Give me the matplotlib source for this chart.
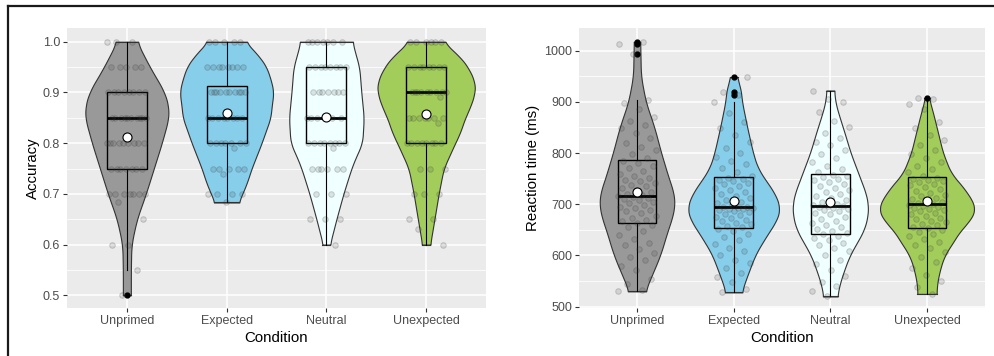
import numpy as np
import matplotlib
matplotlib.use("Agg")
import matplotlib.pyplot as plt
from matplotlib.lines import Line2D

plt.rcParams['font.family'] = ['Liberation Sans', 'DejaVu Sans']

# ---------------- data ----------------
conditions = ["Unprimed", "Expected", "Neutral", "Unexpected"]
fill_colors = ["#999999", "#87CEEB", "#F0FFFF", "#A2CD5A"]

# Accuracy (left panel) individual values
acc_unprimed = [1.0]*3 + [0.95]*5 + [0.9]*8 + [0.85]*10 + [0.8]*9 + [0.75]*7 + [0.7]*7 + [0.683, 0.65, 0.6, 0.6, 0.55, 0.5]
acc_expected = [1.0]*5 + [0.95]*8 + [0.9]*10 + [0.85]*8 + [0.8]*7 + [0.79] + [0.75]*5 + [0.74] + [0.7]*4 + [0.683]
acc_neutral = [1.0]*7 + [0.95]*8 + [0.9]*7 + [0.85]*6 + [0.8]*8 + [0.79] + [0.75]*6 + [0.7]*3 + [0.65]*3 + [0.6]
acc_unexpected = [1.0]*6 + [0.95]*8 + [0.9]*9 + [0.89] + [0.85]*7 + [0.84] + [0.8]*8 + [0.75]*3 + [0.7]*3 + [0.65]*2 + [0.63, 0.6]

# Accuracy box statistics
acc_q1 = [0.75, 0.80, 0.80, 0.80]
acc_med = [0.85, 0.85, 0.85, 0.90]
acc_q3 = [0.90, 0.912, 0.95, 0.95]
acc_wlo = [0.55, 0.683, 0.60, 0.60]
acc_whi = [1.0, 1.0, 1.0, 1.0]
acc_mean = [0.813, 0.860, 0.852, 0.857]
acc_out = [[0.5], [], [], []]

# Accuracy violin profiles: levels and half-widths (category units)
acc_v_levels = [
    [0.50, 0.55, 0.60, 0.65, 0.70, 0.75, 0.80, 0.85, 0.87, 0.90, 0.95, 1.00],
    [0.683, 0.72, 0.75, 0.80, 0.85, 0.87, 0.90, 0.92, 0.95, 0.97, 1.00],
    [0.60, 0.65, 0.70, 0.75, 0.77, 0.80, 0.85, 0.90, 0.95, 0.97, 1.00],
    [0.60, 0.65, 0.70, 0.75, 0.80, 0.82, 0.85, 0.87, 0.90, 0.92, 0.95, 0.97, 1.00],
]
acc_v_width = [
    [0.04, 0.04, 0.045, 0.10, 0.19, 0.27, 0.35, 0.42, 0.42, 0.38, 0.23, 0.10],
    [0.12, 0.20, 0.25, 0.35, 0.44, 0.45, 0.47, 0.45, 0.40, 0.33, 0.19],
    [0.035, 0.10, 0.17, 0.25, 0.29, 0.36, 0.375, 0.35, 0.33, 0.30, 0.26],
    [0.04, 0.083, 0.125, 0.175, 0.29, 0.34, 0.39, 0.44, 0.49, 0.49, 0.42, 0.34, 0.17],
]

# Reaction time (right panel) individual values
rt_unprimed = [530, 532, 545, 555, 572, 580, 592, 598, 605, 612, 620, 625, 632, 640, 648, 655, 660,
               664, 667, 670, 674, 678, 682, 686, 689, 692, 695, 698, 702, 705, 708, 710, 713, 715,
               717, 718,
               720, 724, 728, 732, 735, 738, 742, 745, 748, 752, 755, 760, 765, 770, 775, 780, 784,
               790, 798, 805, 812, 820, 830, 840, 848, 855, 862, 870, 885, 897, 904, 993, 1013, 1017]
rt_expected = [528, 535, 548, 558, 566, 575, 585, 592, 600, 608, 615, 622, 630, 636, 642, 648, 652,
               655, 658, 661, 664, 667, 670, 673, 676, 679, 681, 684, 686, 688, 690, 691, 692, 693,
               694, 695,
               698, 702, 705, 708, 712, 716, 720, 724, 728, 732, 736, 739, 742, 745, 748, 750, 752,
               756, 762, 770, 778, 785, 792, 800, 810, 822, 835, 848, 860, 878, 900, 914, 920, 948]
rt_neutral = [520, 530, 540, 548, 560, 572, 583, 592, 600, 608, 615, 620, 625, 630, 634, 638, 641,
              644, 648, 652, 656, 660, 664, 668, 672, 676, 680, 683, 686, 688, 690, 692, 694, 696,
              697, 698,
              700, 704, 708, 712, 716, 720, 724, 728, 732, 736, 740, 744, 747, 750, 753, 756, 758,
              762, 768, 775, 782, 790, 798, 806, 815, 822, 830, 840, 850, 862, 880, 900, 905, 922]
rt_unexpected = [525, 538, 550, 562, 575, 588, 598, 606, 614, 620, 626, 632, 638, 642, 646, 650, 653,
                 656, 659, 662, 665, 668, 671, 674, 677, 680, 683, 686, 689, 691, 693, 695, 697, 699,
                 700, 702,
                 704, 707, 710, 713, 716, 719, 722, 726, 730, 734, 737, 740, 743, 746, 748, 750, 752,
                 756, 762, 768, 775, 782, 790, 798, 806, 815, 825, 835, 848, 860, 885, 895, 905, 907]

rt_q1 = [664, 654, 642, 654]
rt_med = [717, 694, 697, 701]
rt_q3 = [786, 753, 759, 753]
rt_wlo = [530, 528, 520, 525]
rt_whi = [904, 900, 922, 905]
rt_mean = [723, 706, 704, 706]
rt_out = [[993, 1013, 1017], [914, 920, 948], [], [907]]

rt_v_levels = [
    [530, 560, 600, 650, 680, 700, 720, 750, 800, 850, 900, 920, 950, 1000, 1017],
    [528, 545, 570, 600, 620, 650, 670, 690, 700, 720, 750, 770, 800, 850, 900, 930, 948],
    [520, 540, 570, 600, 620, 650, 680, 700, 720, 750, 800, 850, 870, 900, 922],
    [525, 540, 570, 600, 620, 650, 670, 690, 700, 730, 760, 800, 850, 880, 907],
]
rt_v_width = [
    [0.083, 0.15, 0.24, 0.32, 0.375, 0.39, 0.385, 0.33, 0.25, 0.18, 0.09, 0.07, 0.04, 0.035, 0.033],
    [0.083, 0.11, 0.16, 0.22, 0.28, 0.38, 0.45, 0.48, 0.47, 0.43, 0.32, 0.25, 0.20, 0.14, 0.086, 0.07, 0.03],
    [0.072, 0.09, 0.14, 0.20, 0.26, 0.35, 0.39, 0.39, 0.37, 0.31, 0.21, 0.13, 0.095, 0.05, 0.04],
    [0.10, 0.10, 0.13, 0.18, 0.25, 0.35, 0.455, 0.50, 0.49, 0.39, 0.25, 0.165, 0.10, 0.06, 0.02],
]

# ---------------- drawing ----------------
fig = plt.figure(figsize=(9.94, 3.56), dpi=100)
ax1 = fig.add_axes([67/994, 48/356, 419/994, 280/356])
ax2 = fig.add_axes([579/994, 48/356, 406/994, 280/356])

def smooth_profile(levels, widths, n=300, k=12):
    y = np.linspace(levels[0], levels[-1], n)
    w = np.interp(y, levels, widths)
    pad = np.pad(w, k, mode='edge')
    ker = np.ones(2*k+1) / (2*k+1)
    ws = np.convolve(pad, ker, mode='valid')
    return y, ws

def panel(ax, data_lists, q1, med, q3, wlo, whi, means, outs, vlev, vwid,
          ylim, yticks, yminor, ylabels, ylabel, ylabelpad):
    ax.set_facecolor("#EBEBEB")
    for s in ax.spines.values():
        s.set_visible(False)
    ax.set_xlim(0.4, 4.6)
    ax.set_ylim(*ylim)
    ax.set_yticks(yticks)
    ax.set_yticklabels(ylabels)
    ax.set_yticks(yminor, minor=True)
    ax.set_xticks(range(1, 5))
    ax.set_xticklabels(conditions)
    ax.grid(True, which='major', color='white', lw=1.1, zorder=0)
    ax.grid(True, which='minor', axis='y', color='white', lw=0.55, zorder=0)
    ax.set_axisbelow(True)
    ax.tick_params(which='major', length=3, width=0.8, color='#333333',
                   labelcolor='#4D4D4D', labelsize=9, pad=2)
    ax.tick_params(which='minor', length=0)
    for i in range(4):
        pos = i + 1
        y, w = smooth_profile(vlev[i], vwid[i])
        ax.fill_betweenx(y, pos - w, pos + w, facecolor=fill_colors[i],
                         edgecolor='#333333', lw=0.8, zorder=2)
        ax.plot([pos - w[0], pos + w[0]], [y[0], y[0]], color='#333333', lw=0.8, zorder=2)
        ax.plot([pos - w[-1], pos + w[-1]], [y[-1], y[-1]], color='#333333', lw=0.8, zorder=2)
    stats = [dict(med=med[i], q1=q1[i], q3=q3[i], whislo=wlo[i], whishi=whi[i],
                  fliers=outs[i]) for i in range(4)]
    bp = ax.bxp(stats, positions=range(1, 5), widths=0.4, showcaps=False,
                patch_artist=True, manage_ticks=False,
                boxprops=dict(facecolor='none', edgecolor='black', lw=1.0),
                whiskerprops=dict(color='black', lw=0.8),
                medianprops=dict(color='black', lw=2.0),
                flierprops=dict(marker='o', markerfacecolor='black',
                                markeredgecolor='black', markersize=3.5))
    for art in bp['boxes'] + bp['whiskers'] + bp['medians'] + bp['fliers']:
        art.set_zorder(3)
    for i, vals in enumerate(data_lists):
        n = len(vals)
        offs = (((np.arange(n) * 0.618034 + 0.21 * i) % 1.0) - 0.5) * 0.4
        ax.plot(np.full(n, i + 1) + offs, vals, 'o', ms=4,
                markerfacecolor=(0.25, 0.25, 0.25, 0.14),
                markeredgecolor=(0.2, 0.2, 0.2, 0.22), mew=0.7, zorder=4,
                linestyle='none')
    ax.plot(range(1, 5), means, 'o', ms=6.5, markerfacecolor='white',
            markeredgecolor='black', mew=0.8, zorder=5, linestyle='none')
    ax.set_xlabel("Condition", fontsize=10.8, color='black', labelpad=3)
    ax.set_ylabel(ylabel, fontsize=10.8, color='black', labelpad=ylabelpad)

panel(ax1, [acc_unprimed, acc_expected, acc_neutral, acc_unexpected],
      acc_q1, acc_med, acc_q3, acc_wlo, acc_whi, acc_mean, acc_out,
      acc_v_levels, acc_v_width,
      (0.475, 1.027), [0.5, 0.6, 0.7, 0.8, 0.9, 1.0], [0.55, 0.65, 0.75, 0.85, 0.95],
      ["0.5", "0.6", "0.7", "0.8", "0.9", "1.0"], "Accuracy", 2)
panel(ax2, [rt_unprimed, rt_expected, rt_neutral, rt_unexpected],
      rt_q1, rt_med, rt_q3, rt_wlo, rt_whi, rt_mean, rt_out,
      rt_v_levels, rt_v_width,
      (497.5, 1044), [500, 600, 700, 800, 900, 1000], [550, 650, 750, 850, 950],
      ["500", "600", "700", "800", "900", "1000"], "Reaction time (ms)", 3)

# outer frame (top and left edges)
fig.add_artist(Line2D([8/994, 1.0], [1 - 6/356, 1 - 6/356], transform=fig.transFigure,
                      color='#1a1a1a', lw=1.6))
fig.add_artist(Line2D([8/994, 8/994], [0.0, 1 - 6/356], transform=fig.transFigure,
                      color='#1a1a1a', lw=1.6))

fig.savefig("out.png", dpi=100, facecolor='white')
